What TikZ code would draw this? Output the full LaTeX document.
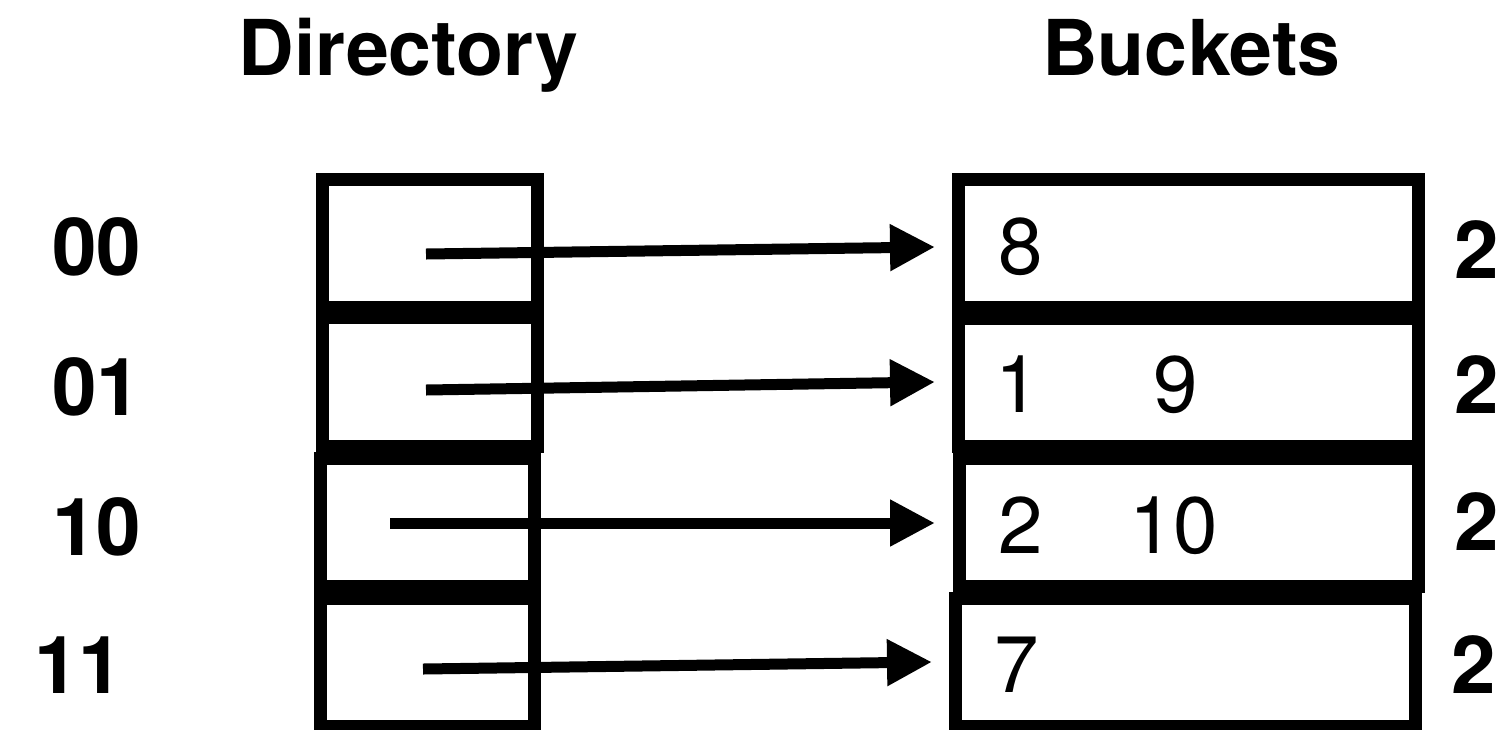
\documentclass[tikz,border=0pt]{standalone}
\usepackage{fontspec}
\setmainfont{TeX Gyre Heros}
\usetikzlibrary{arrows.meta}
\tikzset{
  cell/.style={draw=black, line width=13pt, inner sep=0pt, outer sep=0pt, minimum height=128pt},
  dircell/.style={cell, minimum width=215pt},
  bucketcell/.style={cell, minimum width=460pt},
  title/.style={font=\fontsize{77pt}{92pt}\selectfont\bfseries, anchor=base, inner sep=0pt},
  lbl/.style={font=\fontsize{80pt}{96pt}\selectfont\bfseries, anchor=base west, inner sep=0pt},
  val/.style={font=\fontsize{80pt}{96pt}\selectfont, anchor=base west, inner sep=0pt},
  ptr/.style={line width=11pt, -{Triangle[length=45pt, width=44pt]}}
}
\begin{document}
\begin{tikzpicture}[x=1pt, y=-1pt]
\useasboundingbox (0,0) rectangle (1511,729);

% titles
\node[title] (tdir) at (408.5,75) {Directory};
\node[title] (tbuck) at (1191.5,75) {Buckets};

% directory cells
\node[dircell, minimum height=128.5pt] (d1) at (430,243.25) {};
\node[dircell, minimum height=129pt] (d2) at (430,382) {};
\node[dircell, minimum width=214.5pt] (d3) at (427.25,522.5) {};
\node[dircell, minimum width=214.5pt] (d4) at (427.25,662.5) {};

% bucket cells
\node[bucketcell] (b1) at (1188.5,243.5) {};
\node[bucketcell] (b2) at (1188.5,382.5) {};
\node[bucketcell, minimum width=459.5pt] (b3) at (1188.75,522.5) {};
\node[bucketcell] (b4) at (1185.5,662.5) {};

% directory labels
\node[lbl] (l00) at (52,275) {00};
\node[lbl] (l01) at (52,415) {01};
\node[lbl] (l10) at (52,555) {10};
\node[lbl] (l11) at (34,693) {11};

% local depths
\node[lbl] (g1) at (1454,278) {2};
\node[lbl] (g2) at (1454,413) {2};
\node[lbl] (g3) at (1454,550) {2};
\node[lbl] (g4) at (1451,693) {2};

% bucket contents
\node[val] (v8) at (998,274) {8};
\node[val] (v1) at (995,412) {1};
\node[val] (v9) at (1153,412) {9};
\node[val] (v2) at (998,553) {2};
\node[val] (v10) at (1129,553) {10};
\node[val] (v7) at (994,692) {7};

% pointer coordinates
\coordinate (s1) at (426,254);
\coordinate (s2) at (426,390);
\coordinate (s3) at (390,523);
\coordinate (s4) at (423,669);
\coordinate (e1) at (935,247);
\coordinate (e2) at (935,382);
\coordinate (e3) at (935,523);
\coordinate (e4) at (932,662);

\draw[ptr] (s1) -- (e1);
\draw[ptr] (s2) -- (e2);
\draw[ptr] (s3) -- (e3);
\draw[ptr] (s4) -- (e4);
\end{tikzpicture}
\end{document}
